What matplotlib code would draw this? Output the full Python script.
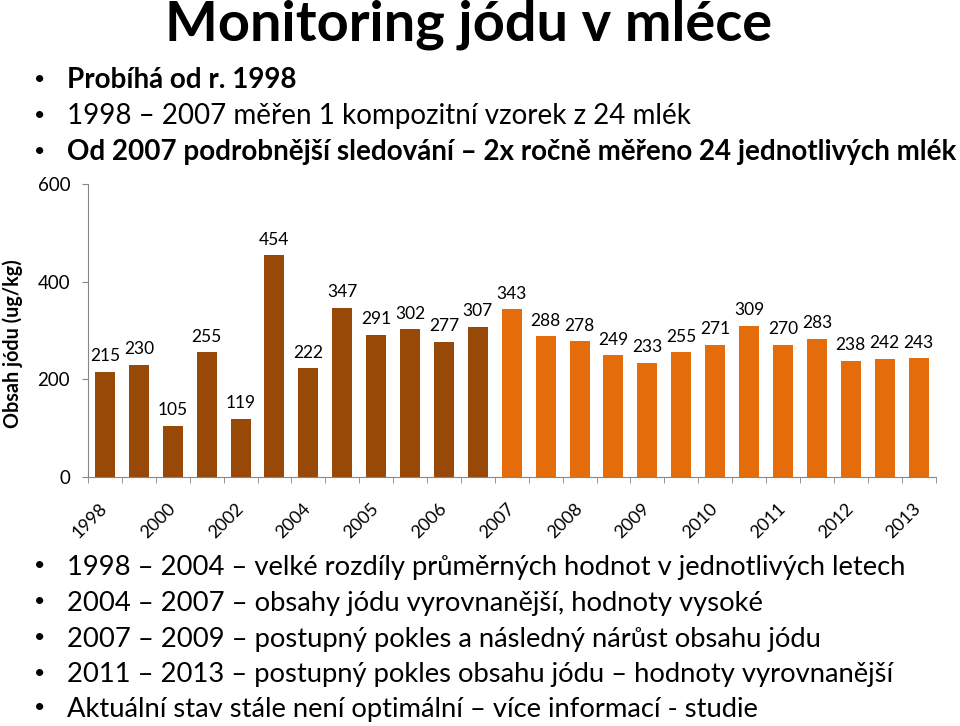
import matplotlib
matplotlib.use("Agg")
import matplotlib.pyplot as plt

# ---- data ----
categories = ['1998', '1999', '2000', '2001', '2002', '2003', '2004', '2004',
              '2005', '2005', '2006', '2006', '2007', '2007', '2008', '2008',
              '2009', '2009', '2010', '2010', '2011', '2011', '2012', '2012', '2013']
values = [215, 230, 105, 255, 119, 454, 222, 347, 291, 302, 277, 307,
          343, 288, 278, 249, 233, 255, 271, 309, 270, 283, 238, 242, 243]
n_early = 12  # bars before the detailed (semi-annual) monitoring
y_ticks = [0, 200, 400, 600]

title = "Monitoring jódu v mléce"
top_bullets = [("Probíhá od r. 1998", "bold"),
               ("1998 – 2007 měřen 1 kompozitní vzorek z 24 mlék", "normal"),
               ("Od 2007 podrobnější sledování – 2x ročně měřeno 24 jednotlivých mlék", "bold")]
bottom_bullets = ["1998 – 2004 – velké rozdíly průměrných hodnot v jednotlivých letech",
                  "2004 – 2007 – obsahy jódu vyrovnanější, hodnoty vysoké",
                  "2007 – 2009 – postupný pokles a následný nárůst obsahu jódu",
                  "2011 – 2013 – postupný pokles obsahu jódu – hodnoty vyrovnanější",
                  "Aktuální stav stále není optimální – více informací - studie"]
ylabel = "Obsah jódu (ug/kg)"

DARK = "#984807"
ORANGE = "#E46C0A"
GRAY = "#868686"
FONT = "Lato"
FAM = [FONT, 'DejaVu Sans']
plt.rcParams['font.family'] = FAM

W, H = 960, 726
fig = plt.figure(figsize=(W / 100, H / 100), dpi=100)
renderer = fig.canvas.get_renderer()


def px(x, y):
    return x / W, 1 - y / H


def fit_size(s, target_w, weight="normal", size0=20):
    t = fig.text(0, 0, s, fontsize=size0, fontweight=weight, family=FAM)
    w = t.get_window_extent(renderer).width
    t.remove()
    return size0 * target_w / w


# title
ts = fit_size(title, 608, weight="bold", size0=40)
fig.text(*px(469, 40), title, fontsize=ts, fontweight="bold", ha="center", va="baseline")

# top bullets (shared size, fitted on the longest line)
top_size = fit_size(top_bullets[2][0], 890, weight="bold")
top_base = [88, 124, 160]
for (s, wgt), y in zip(top_bullets, top_base):
    fig.text(*px(40, y - 9), "•", fontsize=14, ha="center", va="center")
    fig.text(*px(67, y), s, fontsize=top_size, fontweight=wgt, ha="left", va="baseline")

# bottom bullets
bot_size = fit_size(bottom_bullets[0], 841)
bot_base = [575, 611, 647, 682, 717]
for s, y in zip(bottom_bullets, bot_base):
    fig.text(*px(40, y - 9), "•", fontsize=14, ha="center", va="center")
    fig.text(*px(67, y), s, fontsize=bot_size, ha="left", va="baseline")

# y label
ys = fit_size(ylabel, 168, weight="bold")
fig.text(*px(12.5, 344), ylabel, fontsize=ys, fontweight="bold", rotation=90,
         ha="center", va="center")

# chart
left, right, top, bottom = 88, 935.5, 184.2, 476.7
ax = fig.add_axes([left / W, 1 - bottom / H, (right - left) / W, (bottom - top) / H])
x = list(range(len(values)))
colors = [DARK if i < n_early else ORANGE for i in x]
ax.bar(x, values, width=0.59, color=colors, zorder=2)
for xi, v in zip(x, values):
    ax.annotate(str(v), (xi, v), xytext=(0, 5.5), textcoords="offset points",
                ha="center", va="bottom", fontsize=12.5, color="black")

ax.set_xlim(-0.5, len(values) - 0.5)
ax.set_ylim(0, 600)
ax.set_yticks(y_ticks)
ax.set_yticklabels([str(t) for t in y_ticks], fontsize=13.5)
ax.set_xticks(x[::2])
ax.set_xticklabels(categories[::2], fontsize=13)
ax.set_xticks([i - 0.5 for i in range(len(values) + 1)], minor=True)
ax.tick_params(axis='x', which='major', length=0, pad=21)
ax.tick_params(axis='x', which='minor', length=4.3, color=GRAY, direction="out")
ax.tick_params(axis='y', length=4.3, color=GRAY, pad=8.5)
plt.setp(ax.get_xticklabels(), rotation=45, ha="right", va="center", rotation_mode="anchor")
for sp in ["top", "right"]:
    ax.spines[sp].set_visible(False)
for sp in ["left", "bottom"]:
    ax.spines[sp].set_color(GRAY)

fig.savefig("out.png", dpi=100)
